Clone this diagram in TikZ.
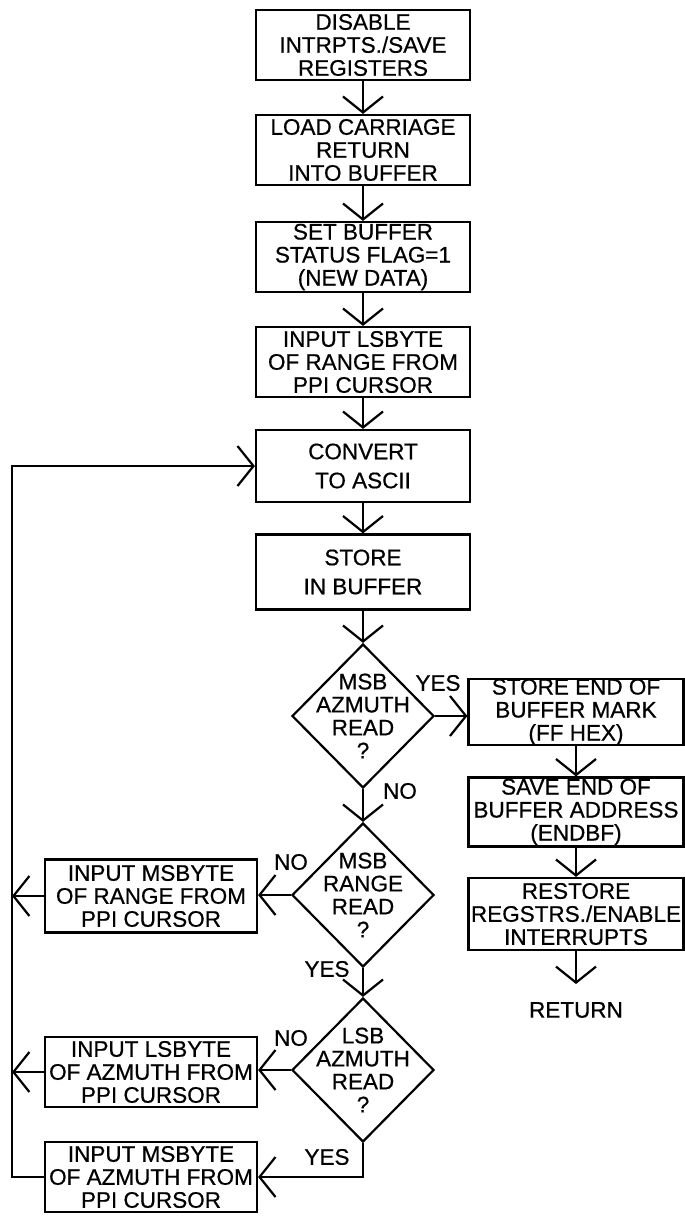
\documentclass[tikz,border=0pt]{standalone}
\usepackage{fontspec}
\setmainfont{Liberation Sans}
\newfontfamily\flowfam[FakeBold=0.6]{Liberation Sans}
\usetikzlibrary{arrows.meta,shapes.geometric}
\newcommand\flowfont{\flowfam\fontsize{22.5}{23}\selectfont}
\begin{document}
\begin{tikzpicture}[x=1pt,y=-1pt,
  box/.style={draw,line width=2.2pt,rectangle,minimum width=214pt,minimum height=70pt,inner sep=0pt,align=center,font=\flowfont},
  dia/.style={draw,line width=2.2pt,diamond,minimum width=142pt,minimum height=144pt,inner sep=0pt},
  dtext/.style={align=center,font=\flowfont,inner sep=0pt},
  lbl/.style={font=\flowfont,inner sep=0pt},
  flow/.style={line width=2.2pt,-{Straight Barb[length=16pt,width=40pt,line width=2.2pt]}},
  plain/.style={line width=2.2pt}]
\useasboundingbox (0,0) rectangle (685,1216);
% main column
\node[box] (b1) at (363,45) {DISABLE\\INTRPTS./SAVE\\REGISTERS};
\node[box] (b2) at (363,150) {LOAD CARRIAGE\\RETURN\\INTO BUFFER};
\node[box] (b3) at (363,257) {SET BUFFER\\STATUS FLAG=1\\(NEW DATA)};
\node[box] (b4) at (363,362) {INPUT LSBYTE\\OF RANGE FROM\\PPI CURSOR};
\node[box,minimum height=72pt] (b5) at (363,466) {CONVERT\\[6pt]TO ASCII};
\node[box,minimum height=75pt] (b6) at (363,572) {STORE\\[6pt]IN BUFFER};
% decisions
\node[dia] (d1) at (363,716) {};
\node[dtext] (t1) at (d1.center) {MSB\\AZMUTH\\READ\\?};
\node[dia] (d2) at (363,895) {};
\node[dtext] (t2) at (d2.center) {MSB\\RANGE\\READ\\?};
\node[dia] (d3) at (363,1070) {};
\node[dtext] (t3) at (d3.center) {LSB\\AZMUTH\\READ\\?};
% right column
\node[box,minimum width=215pt,minimum height=66pt] (r1) at (576,712) {STORE END OF\\BUFFER MARK\\(FF HEX)};
\node[box,minimum width=215pt,minimum height=69pt] (r2) at (576,812) {SAVE END OF\\BUFFER ADDRESS\\(ENDBF)};
\node[box,minimum width=215pt,minimum height=72pt] (r3) at (576,914) {RESTORE\\REGSTRS./ENABLE\\INTERRUPTS};
\coordinate (retend) at (576,984);
\node[lbl] (ret) at (576,1010) {RETURN};
% left column
\node[box,minimum width=212pt,minimum height=73pt] (lA) at (151,896) {INPUT MSBYTE\\OF RANGE FROM\\PPI CURSOR};
\node[box,minimum width=212pt,minimum height=70pt] (lB) at (151,1072) {INPUT LSBYTE\\OF AZMUTH FROM\\PPI CURSOR};
\node[box,minimum width=212pt,minimum height=70pt] (lC) at (151,1177) {INPUT MSBYTE\\OF AZMUTH FROM\\PPI CURSOR};
\coordinate (lx) at (12,0);
% labels
\node[lbl] (y1) at (438,683) {YES};
\node[lbl] (n1) at (400,791) {NO};
\node[lbl] (n2) at (291,862) {NO};
\node[lbl] (y2) at (327,969) {YES};
\node[lbl] (n3) at (291,1038) {NO};
\node[lbl] (y3) at (327,1157) {YES};
% connectors
\draw[flow] (b1.south) -- (b2.north);
\draw[flow] (b2.south) -- (b3.north);
\draw[flow] (b3.south) -- (b4.north);
\draw[flow] (b4.south) -- (b5.north);
\draw[flow] (b5.south) -- (b6.north);
\draw[flow] (b6.south) -- (d1.north);
\draw[flow] (d1.east) -- (d1.east -| r1.west);
\draw[flow] (r1.south) -- (r2.north);
\draw[flow] (r2.south) -- (r3.north);
\draw[flow] (r3.south) -- (retend);
\draw[flow] (d1.south) -- (d2.north);
\draw[flow] (d2.south) -- (d3.north);
\draw[flow] (d2.west) -- (d2.west -| lA.east);
\draw[flow] (d3.west) -- (d3.west -| lB.east);
\draw[flow] (lA.west) -- (lA.west -| lx);
\draw[flow] (lB.west) -- (lB.west -| lx);
\draw[flow] (d3.south) |- (lC.east);
\draw[flow] (lC.west) -| (lx |- b5.west) -- (b5.west);
\end{tikzpicture}
\end{document}
